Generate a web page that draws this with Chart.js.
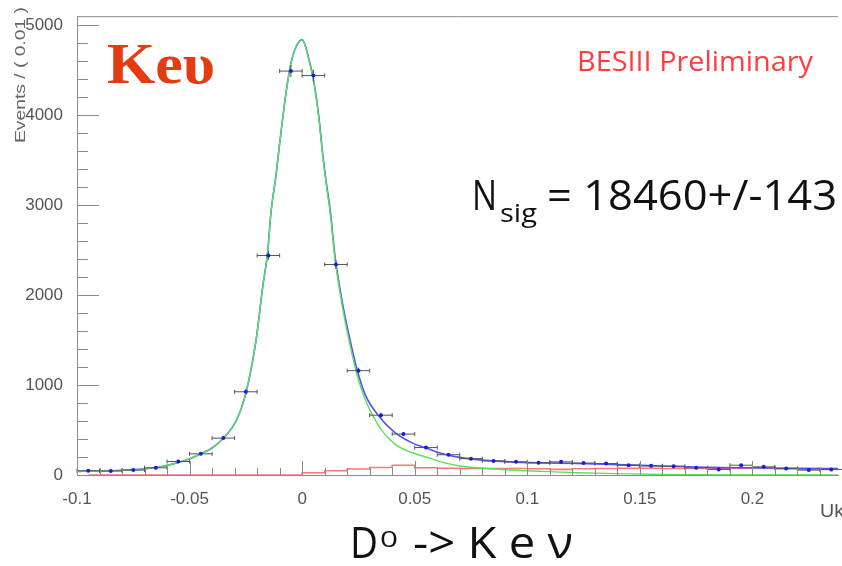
<!DOCTYPE html>
<html>
<head>
<meta charset="utf-8">
<script src="https://cdn.jsdelivr.net/npm/chart.js@4.4.0/dist/chart.umd.min.js"></script>
<style>
  html, body { margin: 0; padding: 0; background: #fff; }
  #contenedor { width: 842px; height: 566px; position: relative; }
</style>
</head>
<body>
<div id="contenedor"><canvas id="grafico"></canvas></div>
<script>
//Centros de los bines (ancho 0.01) y eventos
const centros = [-0.095, -0.085, -0.075, -0.065, -0.055, -0.045, -0.035, -0.025, -0.015, -0.005,
  0.005, 0.015, 0.025, 0.035, 0.045, 0.055, 0.065, 0.075, 0.085, 0.095,
  0.105, 0.115, 0.125, 0.135, 0.145, 0.155, 0.165, 0.175, 0.185, 0.195,
  0.205, 0.215, 0.225, 0.235];
const eventos = [47, 45, 55, 80, 150, 235, 410, 925, 2440, 4490,
  4440, 2340, 1160, 665, 455, 305, 225, 182, 157, 146,
  135, 146, 133, 127, 109, 102, 98, 80, 62, 109,
  91, 73, 55, 62];
const errores = [7, 7, 7, 9, 12, 15, 20, 30, 49, 67,
  67, 48, 34, 26, 21, 17, 15, 13, 13, 12,
  12, 12, 12, 11, 10, 10, 10, 9, 8, 10,
  10, 9, 7, 8];
const fondo = [0, 0, 0, 0, 0, 0, 0, 0, 0, 0,
  25, 47, 66, 84, 109, 80, 75, 73, 73, 72,
  70, 62, 70, 72, 75, 75, 73, 73, 73, 75,
  75, 68, 62, 62];

//Curvas del ajuste (senal en verde, total en azul)
const curvaX = [-0.1, -0.09, -0.08, -0.07, -0.063, -0.055, -0.05, -0.045, -0.04, -0.035,
  -0.0293, -0.0248, -0.0204, -0.0175, -0.0153, -0.0138, -0.0116, -0.0101, -0.0087, -0.0072,
  -0.005, -0.0025, 0, 0.0031, 0.0053, 0.0075, 0.009, 0.0104, 0.0126, 0.0145,
  0.0178, 0.0207, 0.0244, 0.028, 0.034, 0.0411, 0.0486, 0.056, 0.0633, 0.0706,
  0.078, 0.0927, 0.1074, 0.1221, 0.14, 0.16, 0.18, 0.2, 0.22, 0.238];
const senal = [40, 45, 52, 68, 91, 140, 180, 237, 300, 408,
  601, 929, 1511, 2095, 2480, 2932, 3333, 3661, 3953, 4243,
  4572, 4770, 4840, 4600, 4345, 3945, 3580, 3285, 2880, 2420,
  1880, 1510, 1110, 838, 546, 346, 250, 193, 135, 98,
  80, 55, 40, 25, 15, 5, 2, 0, 0, 0];
const total = [40, 45, 52, 68, 91, 140, 180, 237, 300, 408,
  601, 929, 1511, 2095, 2480, 2932, 3333, 3661, 3953, 4243,
  4572, 4770, 4840, 4615, 4360, 3965, 3600, 3310, 2915, 2450,
  1925, 1565, 1170, 893, 656, 473, 360, 291, 230, 193,
  171, 146, 135, 128, 115, 100, 85, 80, 75, 72];

//Marcas de los ejes
const ticksX = [-0.1, -0.05, 0, 0.05, 0.1, 0.15, 0.2];
const ticksY = [0, 1000, 2000, 3000, 4000, 5000];

const puntos = (xs, ys) => xs.map((x, i) => ({ x: x, y: ys[i] }));

//Dibuja un texto estirado para que ocupe el ancho indicado
const textoAjustado = (ctx, txt, x, y, ancho, fuente, color) => {
  ctx.save();
  ctx.font = fuente;
  ctx.fillStyle = color;
  ctx.textAlign = 'left';
  ctx.textBaseline = 'alphabetic';
  const w = ctx.measureText(txt).width;
  ctx.translate(x, y);
  ctx.scale(ancho / w, 1);
  ctx.fillText(txt, 0, 0);
  ctx.restore();
}

//Barras de error estilo ROOT, justo antes de pintar los puntos
const barrasError = {
  id: 'barrasError',
  beforeDatasetDraw(chart, args) {
    if (args.index !== 0) return;
    const ctx = chart.ctx, sx = chart.scales.x, sy = chart.scales.y;
    ctx.save();
    ctx.strokeStyle = '#555';
    ctx.lineWidth = 1;
    centros.forEach((c, i) => {
      const x1 = sx.getPixelForValue(c - 0.005), x2 = sx.getPixelForValue(c + 0.005);
      const xc = sx.getPixelForValue(c), yc = sy.getPixelForValue(eventos[i]);
      const ya = sy.getPixelForValue(eventos[i] + errores[i]), yb = sy.getPixelForValue(eventos[i] - errores[i]);
      ctx.beginPath();
      ctx.moveTo(x1, yc); ctx.lineTo(x2, yc);
      ctx.moveTo(x1, yc - 2); ctx.lineTo(x1, yc + 2);
      ctx.moveTo(x2, yc - 2); ctx.lineTo(x2, yc + 2);
      ctx.moveTo(xc, ya); ctx.lineTo(xc, yb);
      ctx.stroke();
    });
    ctx.restore();
  }
};

//Marco, marcas hacia adentro y textos
const decoracion = {
  id: 'decoracion',
  afterDraw(chart) {
    const ctx = chart.ctx, a = chart.chartArea, sx = chart.scales.x, sy = chart.scales.y;
    ctx.save();
    ctx.strokeStyle = '#8c8c8c';
    ctx.lineWidth = 1;
    ctx.beginPath();
    ctx.moveTo(a.left, a.top + 0.5); ctx.lineTo(a.right, a.top + 0.5);
    for (let v = 0; v <= 5000; v += 200) {
      const y = Math.round(sy.getPixelForValue(v)) + 0.5;
      const largo = ticksY.includes(v) ? 22 : 11;
      ctx.moveTo(a.left, y); ctx.lineTo(a.left + largo, y);
    }
    for (let k = -10; k <= 23; k++) {
      const x = Math.round(sx.getPixelForValue(k / 100)) + 0.5;
      const largo = k % 5 === 0 ? 14 : 7;
      ctx.moveTo(x, a.bottom); ctx.lineTo(x, a.bottom - largo);
    }
    ctx.stroke();
    ctx.restore();

    //Titulo del eje Y
    ctx.save();
    ctx.translate(25, 143);
    ctx.rotate(-Math.PI / 2);
    textoAjustado(ctx, 'Events / ( 0.01 )', 0, 0, 136, '14px "Liberation Sans"', '#666');
    ctx.restore();
    textoAjustado(ctx, 'Uk', 820, 517, 24, '18px "Liberation Sans"', '#555');

    textoAjustado(ctx, 'Keυ', 107, 83, 108, 'bold 56px "Liberation Serif"', '#e33b12');
    textoAjustado(ctx, 'BESIII Preliminary', 577, 71, 236, '27px "Open Sans"', '#ff3d3d');
    textoAjustado(ctx, 'N', 472, 210, 25, '42px "Open Sans"', '#111');
    textoAjustado(ctx, 'sig', 500, 222, 37, '25px "Open Sans"', '#111');
    textoAjustado(ctx, '= 18460+/-143', 547, 210, 290, '42px "Open Sans"', '#111');
    textoAjustado(ctx, 'D', 350, 558, 28, '44px "Open Sans"', '#111');
    textoAjustado(ctx, '0', 380, 547, 18, '21px "Open Sans"', '#111');
    textoAjustado(ctx, '-> K e ν', 413, 558, 160, '44px "Open Sans"', '#111');
  }
};

const ctx = document.getElementById('grafico');
new Chart(ctx, {
  type: 'line',
  data: {
    datasets: [
      {
        label: 'datos',
        data: puntos(centros, eventos),
        showLine: false,
        pointRadius: 2,
        pointBorderWidth: 0,
        pointBackgroundColor: '#1a1ae6'
      },
      {
        label: 'senal',
        data: puntos(curvaX, senal),
        borderColor: 'rgb(90, 225, 90)',
        borderWidth: 1.4,
        pointRadius: 0,
        cubicInterpolationMode: 'monotone'
      },
      {
        label: 'total',
        data: puntos(curvaX, total),
        borderColor: 'rgb(80, 80, 245)',
        borderWidth: 1.6,
        pointRadius: 0,
        cubicInterpolationMode: 'monotone'
      },
      {
        label: 'fondo',
        data: puntos(centros, fondo),
        borderColor: 'rgb(250, 120, 120)',
        borderWidth: 1.6,
        pointRadius: 0,
        stepped: 'middle'
      }
    ]
  },
  options: {
    responsive: true,
    maintainAspectRatio: false,
    animation: false,
    layout: { padding: { top: 8, left: 0, right: 0, bottom: 0 } },
    plugins: { legend: { display: false }, tooltip: { enabled: false } },
    scales: {
      x: {
        type: 'linear',
        min: -0.1,
        max: 0.238,
        grid: { display: false },
        border: { display: true, color: '#8c8c8c' },
        afterBuildTicks: (s) => { s.ticks = ticksX.map(v => ({ value: v })); },
        afterFit: (s) => { s.height = 91; },
        ticks: {
          padding: 6,
          color: '#555',
          font: { family: 'Liberation Sans', size: 17 },
          maxRotation: 0,
          callback: (v) => String(Number(v.toFixed(2)))
        }
      },
      y: {
        min: 0,
        max: 5100,
        grid: { display: false },
        border: { display: true, color: '#8c8c8c' },
        afterBuildTicks: (s) => { s.ticks = ticksY.map(v => ({ value: v })); },
        afterFit: (s) => { s.width = 77; },
        ticks: {
          padding: 6,
          color: '#555',
          font: { family: 'Liberation Sans', size: 17 },
          callback: (v) => String(v)
        }
      }
    }
  },
  plugins: [barrasError, decoracion]
});
</script>
</body>
</html>
